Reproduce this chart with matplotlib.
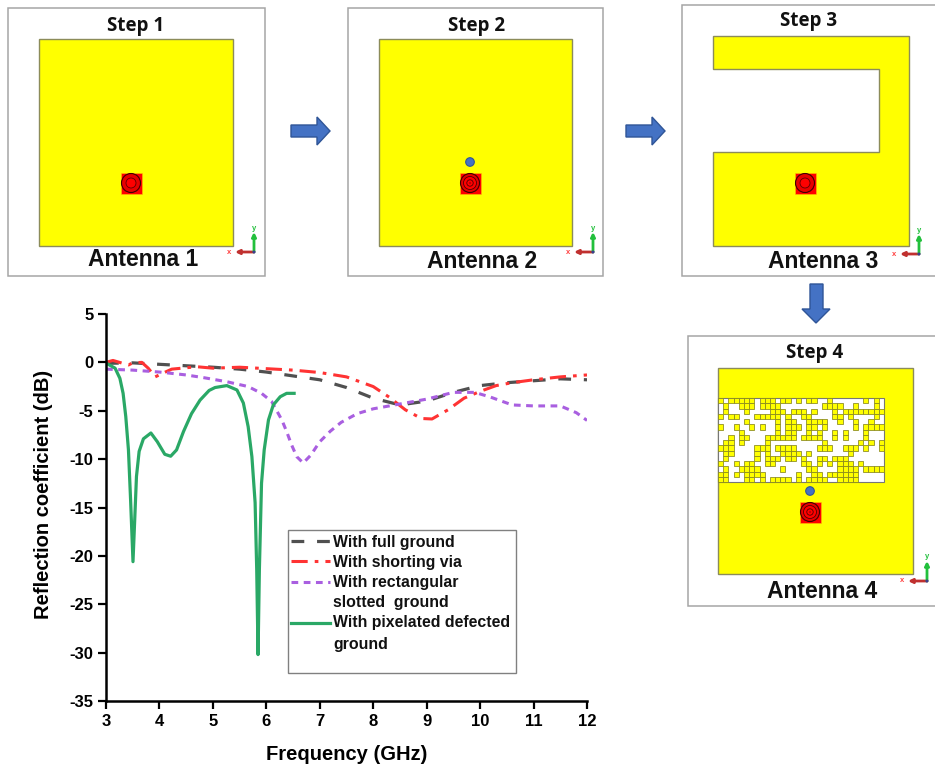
import matplotlib
matplotlib.use('Agg')
import matplotlib.pyplot as plt
from matplotlib.patches import Rectangle, Circle, Polygon

W, H = 935, 766

# Reflection coefficient curves
freq_full = [3, 3.5, 4, 4.5, 5, 5.5, 6, 6.5, 7, 7.5, 8, 8.5, 9, 9.5, 10, 10.5, 11, 11.5, 12]
s11_full = [-0.1, -0.05, -0.2, -0.35, -0.5, -0.7, -1.0, -1.4, -1.8, -2.6, -3.7, -4.4, -4.0, -3.1, -2.4, -2.1, -1.9, -1.7, -1.8]

freq_via = [3, 3.13, 3.42, 3.5, 3.67, 3.79, 3.92, 4.07, 4.23, 4.7, 5, 5.5, 6, 6.5, 7, 7.5, 8, 8.3, 8.6, 8.9, 9.1, 9.4, 9.7, 10, 10.3, 10.6, 11, 11.5, 12]
s11_via = [0, 0.2, -0.27, -0.05, 0, -0.6, -1.5, -1.1, -0.7, -0.45, -0.6, -0.5, -0.65, -0.8, -1.05, -1.5, -2.5, -3.6, -4.9, -5.8, -5.85, -4.9, -3.7, -3.0, -2.4, -2.1, -1.8, -1.5, -1.3]

freq_rect = [3, 3.5, 4, 4.5, 4.85, 5.26, 5.66, 5.91, 6.1, 6.29, 6.38, 6.47, 6.57, 6.69, 6.83, 7.0, 7.2, 7.4, 7.7, 8, 8.5, 9, 9.5, 9.9, 10.2, 10.6, 11, 11.5, 11.8, 12]
s11_rect = [-0.7, -0.8, -1.0, -1.3, -1.6, -2.0, -2.5, -3.2, -4.05, -5.95, -7.15, -8.5, -9.75, -10.4, -9.6, -8.2, -7.1, -6.2, -5.3, -4.8, -4.3, -3.8, -3.1, -3.1, -3.6, -4.4, -4.5, -4.5, -5.2, -6]

freq_pix = [3.01, 3.17, 3.26, 3.32, 3.37, 3.42, 3.46, 3.505, 3.54, 3.57, 3.62, 3.70, 3.84, 3.96, 4.10, 4.21, 4.32, 4.45, 4.60, 4.76, 4.93, 5.04, 5.26, 5.45, 5.57, 5.66, 5.73, 5.79, 5.82, 5.845, 5.87, 5.91, 5.96, 6.04, 6.13, 6.26, 6.38, 6.52]
s11_pix = [-0.1, -0.6, -1.65, -3.2, -5.6, -9.05, -14.2, -20.6, -15.9, -11.8, -9.2, -7.9, -7.3, -8.2, -9.5, -9.7, -9.05, -7.15, -5.3, -3.9, -2.9, -2.6, -2.4, -2.85, -4.2, -6.65, -9.75, -14.5, -21.4, -30.2, -21.4, -12.5, -9.05, -5.95, -4.4, -3.55, -3.2, -3.2]

x_ticks = [3, 4, 5, 6, 7, 8, 9, 10, 11, 12]
y_ticks = [5, 0, -5, -10, -15, -20, -25, -30, -35]

# filled columns in each row of the pixelated slot (16 rows, 32 columns)
pixel_rows = [
    [0, 2, 3, 4, 5, 6, 8, 9, 10, 12, 13, 15, 17, 18, 21, 28, 30],
    [1, 4, 5, 6, 8, 9, 10, 11, 20, 21, 22, 23, 26, 30],
    [1, 5, 10, 11, 12, 14, 15, 16, 18, 22, 24, 25, 26, 27, 28, 29, 30, 31],
    [0, 2, 3, 7, 8, 9, 10, 11, 13, 16, 17, 22, 23, 25, 30],
    [5, 11, 13, 14, 17, 18, 19, 20, 23, 26, 29],
    [0, 3, 6, 8, 11, 13, 14, 15, 17, 18, 20, 26, 28, 29, 30, 31],
    [4, 11, 13, 14, 17, 19, 22, 24, 28],
    [2, 4, 5, 9, 10, 11, 12, 13, 14, 16, 17, 18, 19, 22, 24, 28],
    [1, 2, 4, 9, 20, 27, 29, 31],
    [0, 1, 2, 7, 8, 9, 11, 12, 13, 14, 19, 20, 21, 24, 25, 26, 28, 31],
    [1, 2, 7, 9, 12, 13, 14, 15, 17, 25],
    [1, 7, 9, 10, 11, 13, 14, 16, 19, 20, 22, 23, 24],
    [0, 3, 5, 6, 9, 10, 16, 17, 19, 21, 23, 24, 25, 27],
    [1, 4, 5, 6, 7, 12, 17, 18, 23, 24, 25, 26, 28, 29, 30, 31],
    [0, 1, 3, 5, 6, 7, 8, 15, 18, 19, 21, 22, 23, 24, 25, 26],
    [0, 1, 5, 6, 8, 10, 11, 12, 13, 15, 17, 18, 19, 20, 23, 24, 25, 26],
]

plt.rcParams['font.family'] = ['Liberation Sans', 'DejaVu Sans']
plt.rcParams['axes.unicode_minus'] = False

fig = plt.figure(figsize=(W / 100, H / 100), dpi=100)

# overlay in pixel coordinates for the antenna drawings
bg = fig.add_axes([0, 0, 1, 1])
bg.set_xlim(0, W)
bg.set_ylim(H, 0)
bg.axis('off')

GREY = '#a6a6a6'
YELLOW = '#ffff00'
EDGE = '#8c8c5a'
BLUE = '#4472c4'


def box(x0, y0, x1, y1):
    bg.add_patch(Rectangle((x0, y0), x1 - x0, y1 - y0, fc='white', ec=GREY, lw=1.1, clip_on=False))


def patch(x0, y0, x1, y1):
    bg.add_patch(Rectangle((x0, y0), x1 - x0, y1 - y0, fc=YELLOW, ec=EDGE, lw=1))


def feed(x, y, rings=False):
    bg.add_patch(Rectangle((x - 10.5, y - 10.5), 21, 21, fc='#ff0000', ec='#ffc000', lw=0.4, zorder=3))
    bg.add_patch(Circle((x, y), 9.5, fc='#e80000', ec='#400000', lw=0.8, zorder=4))
    if rings:
        bg.add_patch(Circle((x, y), 6.5, fc='#ff0000', ec='#500000', lw=0.6, zorder=5))
        bg.add_patch(Circle((x, y), 3.2, fc='#ff0000', ec='#500000', lw=0.6, zorder=6))
        bg.add_patch(Circle((x, y), 0.6, fc='#300000', ec='none', zorder=7))
    else:
        bg.add_patch(Circle((x, y), 5, fc='#ff0000', ec='#600000', lw=0.6, zorder=5))


def triad(x, y):
    bg.annotate('', xy=(x - 19, y), xytext=(x, y),
                arrowprops=dict(arrowstyle='-|>', color='#c0302f', lw=2, mutation_scale=6, shrinkA=0, shrinkB=0))
    bg.annotate('', xy=(x, y - 20), xytext=(x, y),
                arrowprops=dict(arrowstyle='-|>', color='#22c03c', lw=2, mutation_scale=6, shrinkA=0, shrinkB=0))
    bg.add_patch(Circle((x, y), 1.5, fc='#3c3c90', ec='none', zorder=5))
    bg.text(x - 25, y, 'x', color='#ff4040', fontsize=5.5, ha='center', va='center', weight='bold')
    bg.text(x, y - 24, 'y', color='#22c03c', fontsize=5.5, ha='center', va='center', weight='bold')


def step_text(x, y, s):
    bg.text(x, y + 2, s, fontsize=13.5, family='Open Sans', weight='bold', ha='center', va='center', color='#111111')


def ant_text(x, y, s):
    bg.text(x, y + 2, s, fontsize=16.5, weight='bold', ha='center', va='center', color='#111111')


def right_arrow(x0, x1, y):
    xh = x1 - 13
    pts = [(x0, y - 6), (xh, y - 6), (xh, y - 14), (x1, y), (xh, y + 14), (xh, y + 6), (x0, y + 6)]
    bg.add_patch(Polygon(pts, fc=BLUE, ec='#2f5597', lw=1))


# antenna 1
box(8, 8, 265, 276)
patch(39, 39, 233, 246)
feed(131, 183)
triad(254, 252)
step_text(136, 24, 'Step 1')
ant_text(143, 258, 'Antenna 1')

# antenna 2
box(348, 8, 603, 276)
patch(379, 39, 572, 246)
feed(470, 183, rings=True)
bg.add_patch(Circle((470, 162), 4.3, fc=BLUE, ec='#2f5597', lw=0.8))
triad(593, 252)
step_text(477, 24, 'Step 2')
ant_text(482, 260, 'Antenna 2')

# antenna 3
box(682, 5, 937, 276)
bg.add_patch(Polygon([(713, 36), (909, 36), (909, 246), (713, 246), (713, 152), (879, 152), (879, 69), (713, 69)],
                     fc=YELLOW, ec=EDGE, lw=1))
feed(805, 183)
triad(919, 254)
step_text(809, 19, 'Step 3')
ant_text(823, 259, 'Antenna 3')

# antenna 4
box(688, 336, 937, 606)
patch(718, 368, 913, 574)
sx0, sy0, sx1, sy1 = 718, 398, 884, 482
bg.add_patch(Rectangle((sx0, sy0), sx1 - sx0, sy1 - sy0, fc='white', ec='#777777', lw=0.8))
cw = (sx1 - sx0) / 32
ch = (sy1 - sy0) / 16
for r, cols in enumerate(pixel_rows):
    for c in cols:
        bg.add_patch(Rectangle((sx0 + c * cw, sy0 + r * ch), cw, ch, fc=YELLOW, ec='#85851e', lw=0.55))
feed(810, 512, rings=True)
bg.add_patch(Circle((810, 491), 4.3, fc=BLUE, ec='#2f5597', lw=0.8))
triad(927, 581)
step_text(815, 351, 'Step 4')
ant_text(822, 590, 'Antenna 4')

# arrows between the steps
right_arrow(291, 330, 131)
right_arrow(626, 665, 131)
bg.add_patch(Polygon([(810, 284), (823, 284), (823, 309), (830, 309), (816, 323), (802, 309), (810, 309)],
                     fc=BLUE, ec='#2f5597', lw=1))

# reflection coefficient chart
ax = fig.add_axes([106 / W, 1 - 701 / H, (587 - 106) / W, (701 - 314) / H])
ax.patch.set_alpha(0)
ax.plot(freq_full, s11_full, color='#505050', lw=2.3, dashes=(4, 4))
ax.plot(freq_via, s11_via, color='#ff3333', lw=2.2, dashes=(5.3, 2.3, 1.2, 2.3))
ax.plot(freq_rect, s11_rect, color='#a95fe0', lw=2.2, dashes=(2.2, 1.8))
ax.plot(freq_pix, s11_pix, color='#2aa866', lw=2.3)
ax.set_xlim(3, 12)
ax.set_ylim(-35, 5)
ax.set_xticks(x_ticks)
ax.set_yticks(y_ticks)
ax.spines['top'].set_visible(False)
ax.spines['right'].set_visible(False)
ax.spines['left'].set_linewidth(1.8)
ax.spines['bottom'].set_linewidth(1.8)
ax.tick_params(direction='out', length=6, width=1.6, labelsize=12, pad=3)
for t in ax.get_xticklabels() + ax.get_yticklabels():
    t.set_fontweight('bold')
ax.set_xlabel('Frequency (GHz)', fontsize=14.5, weight='bold', labelpad=12)
ax.set_ylabel('Reflection coefficient (dB)', fontsize=14.5, weight='bold', labelpad=8)
ax.yaxis.set_label_coords(-0.11, 0.535)

# legend box, drawn by hand so the wrapped labels sit like the original
bg.set_zorder(0)
ax.set_zorder(1)
lg = fig.add_axes([0, 0, 1, 1])
lg.set_xlim(0, W)
lg.set_ylim(H, 0)
lg.axis('off')
lg.set_zorder(2)
lg.add_patch(Rectangle((288, 530), 228, 143, fc='white', ec='#808080', lw=1))
lg.plot([291, 330], [541, 541], color='#505050', lw=2.3, dashes=(4, 4))
lg.plot([291, 330], [561, 561], color='#ff3333', lw=2.2, dashes=(5.3, 2.3, 1.2, 2.3))
lg.plot([291, 330], [582, 582], color='#a95fe0', lw=2.2, dashes=(2.2, 1.8))
lg.plot([291, 330], [623, 623], color='#2aa866', lw=2.3)
leg_labels = ['With full ground', 'With shorting via', 'With rectangular', 'slotted  ground',
              'With pixelated defected', 'ground']
leg_y = [541, 561, 582, 602, 622, 643]
for s, y in zip(leg_labels, leg_y):
    lg.text(333, y + 1, s, fontsize=11.4, weight='bold', ha='left', va='center', color='#111111')

fig.savefig('out.png', dpi=100)
